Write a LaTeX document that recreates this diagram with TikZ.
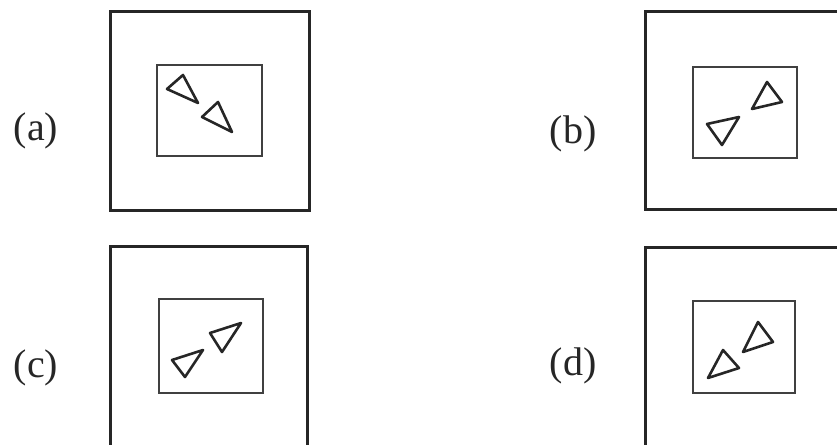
\documentclass[tikz,border=0pt]{standalone}
\usepackage{fontspec}
\setmainfont{Liberation Serif}
\begin{document}
\begin{tikzpicture}[x=1pt,y=-1pt,
  outerbox/.style={draw=black!85,line width=3pt},
  innerbox/.style={draw=black!75,line width=2.6pt},
  tri/.style={draw=black!85,line width=2.6pt,line join=round},
  lbl/.style={font=\fontsize{40}{48}\selectfont,inner sep=0pt,text=black!85}]
\useasboundingbox (0,0) rectangle (837,444);
\clip (0,0) rectangle (837,444);
% (a)
\draw[outerbox] (110,12) rectangle (309,210);
\draw[innerbox] (157,65) rectangle (262,156);
\draw[tri] (167,89) -- (183,75) -- (198,103) -- cycle;
\draw[tri] (202,117) -- (218,102) -- (232,132) -- cycle;
\node[lbl] (la) at (36,131) {(a)};
% (b)
\draw[outerbox] (645,12) rectangle (844,209);
\draw[innerbox] (693,67) rectangle (797,158);
\draw[tri] (752,109) -- (767,82) -- (782,102) -- cycle;
\draw[tri] (707,124) -- (739,117) -- (722,145) -- cycle;
\node[lbl] (lb) at (573,134) {(b)};
% (c)
\draw[outerbox] (110,246) rectangle (307,446);
\draw[innerbox] (159,299) rectangle (263,393);
\draw[tri] (210,333) -- (241,323) -- (222,352) -- cycle;
\draw[tri] (172,360) -- (203,350) -- (185,377) -- cycle;
\node[lbl] (lc) at (36,368) {(c)};
% (d)
\draw[outerbox] (645,247) rectangle (844,446);
\draw[innerbox] (693,301) rectangle (795,393);
\draw[tri] (743,352) -- (758,322) -- (773,342) -- cycle;
\draw[tri] (708,378) -- (723,350) -- (739,368) -- cycle;
\node[lbl] (ld) at (573,366) {(d)};
\end{tikzpicture}
\end{document}
